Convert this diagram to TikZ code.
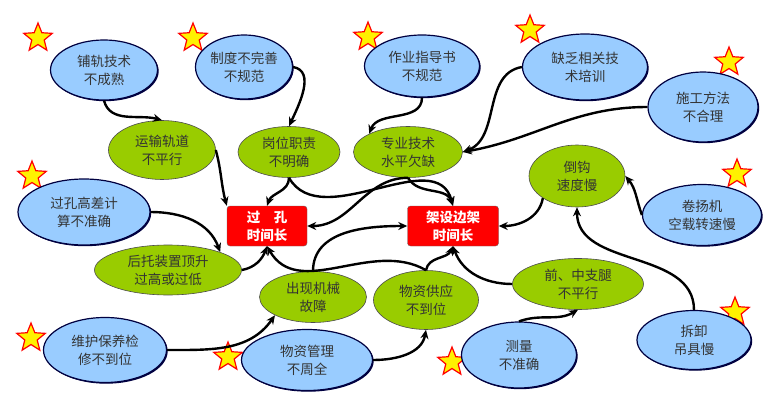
\documentclass[tikz,border=0pt]{standalone}
\usepackage{fontspec}
\setmainfont{Noto Sans CJK SC}
\usetikzlibrary{shapes.geometric,arrows.meta,shadows}
\definecolor{causeblue}{HTML}{99CCFF}
\definecolor{causegreen}{HTML}{99CC00}
\definecolor{edgenavy}{HTML}{000040}
\tikzset{
    root/.style={ellipse,draw=edgenavy,line width=1.2pt,fill=causeblue,inner sep=0pt,
        text=black!80,align=center,font=\fontsize{13.5}{18}\selectfont,
        drop shadow={shadow xshift=1.2pt,shadow yshift=-1.2pt,fill=edgenavy,opacity=1}},
    mid/.style={ellipse,draw=black!70,line width=0.6pt,fill=causegreen,inner sep=0pt,
        text=black!80,align=center,font=\fontsize{13.5}{18}\selectfont},
    effect/.style={rectangle,rounded corners=3pt,draw=black!60,fill=red,text=white,
        align=center,font=\bfseries\fontsize{13.5}{18}\selectfont,minimum width=80pt,minimum height=40pt},
    mark star/.style={star,star points=5,star point ratio=2.3,draw=red,line width=1.2pt,
        fill=yellow,minimum size=30pt,inner sep=0pt},
    cause/.style={-{Stealth[length=9pt,width=8pt]},line width=2.4pt,black}
}
\begin{document}
\begin{tikzpicture}[x=1pt,y=-1pt]
    \useasboundingbox (0,0) rectangle (780,412);

    % stars
    \foreach \sx/\sy [count=\k] in {38/38,193/38,368/37,530/30,729/62,737/174,
        32/176,31/338,228/357,452/362,735/312}
        \node[mark star] (star-\k) at (\sx,\sy) {};

    % effects
    \node[effect] (guokong) at (267,226) {过\quad 孔\\时间长};
    \node[effect,minimum width=91pt] (jiashe) at (453,226) {架设边架\\时间长};

    % first level
    \node[mid,minimum width=107pt,minimum height=59pt] (yunshu) at (162,150) {运输轨道\\不平行};
    \node[mid,minimum width=102pt,minimum height=51pt] (gangwei) at (289,152) {岗位职责\\不明确};
    \node[mid,minimum width=109pt,minimum height=51pt] (zhuanye) at (408,152) {专业技术\\水平欠缺};
    \node[mid,minimum width=147pt,minimum height=50pt] (houtuo) at (168,270) {后托装置顶升\\过高或过低};
    \node[mid,minimum width=107pt,minimum height=51pt] (chuxian) at (313,297) {出现机械\\故障};
    \node[mid,minimum width=105pt,minimum height=59pt] (gongying) at (426,300) {物资供应\\不到位};
    \node[mid,minimum width=96pt,minimum height=62pt] (daogou) at (577,176) {倒钩\\速度慢};
    \node[mid,minimum width=131pt,minimum height=51pt] (zhitui) at (578,284) {前、中支腿\\不平行};

    % root causes
    \node[root,minimum width=107pt,minimum height=60pt] (pugui) at (104,70) {铺轨技术\\不成熟};
    \node[root,minimum width=97pt,minimum height=64pt] (zhidu) at (244,67) {制度不完善\\不规范};
    \node[root,minimum width=115pt,minimum height=62pt] (zuoye) at (422,66) {作业指导书\\不规范};
    \node[root,minimum width=125pt,minimum height=66pt] (quefa) at (585,67) {缺乏相关技\\术培训};
    \node[root,minimum width=110pt,minimum height=70pt] (shigong) at (703,107) {施工方法\\不合理};
    \node[root,minimum width=132pt,minimum height=66pt] (gaocha) at (84,212) {过孔高差计\\算不准确};
    \node[root,minimum width=119pt,minimum height=61pt] (juanyang) at (702,215) {卷扬机\\空载转速慢};
    \node[root,minimum width=123pt,minimum height=65pt] (weihu) at (105,350) {维护保养检\\修不到位};
    \node[root,minimum width=131pt,minimum height=61pt] (guanli) at (307,360) {物资管理\\不周全};
    \node[root,minimum width=115pt,minimum height=66pt] (celiang) at (519,355) {测量\\不准确};
    \node[root,minimum width=114pt,minimum height=59pt] (chaixie) at (694,340) {拆卸\\吊具慢};

    % causes
    \draw[cause] (pugui.south) to[out=-75,in=165] (yunshu.north);
    \draw[cause] (yunshu.east) to[out=-75,in=105] (guokong.north west);
    \draw[cause] (zhidu.east) to[out=-10,in=65] (gangwei.north);
    \draw[cause] (gangwei.south) to[out=-90,in=70] (guokong.north);
    \draw[cause] (gangwei.south) to[out=-60,in=105] (jiashe.north);
    \draw[cause] (zuoye.south) to[out=-90,in=70] (zhuanye.north west);
    \draw[cause] (quefa.west) to[out=190,in=20] (zhuanye.east);
    \draw[cause] (shigong.west) to[out=180,in=10] (zhuanye.east);
    \draw[cause] (zhuanye.south) to[out=180,in=0] (guokong.east);
    \draw[cause] (zhuanye.south) to[out=-60,in=110] (jiashe.north);
    \draw[cause] (gaocha.east) to[out=0,in=110] (houtuo.north east);
    \draw[cause] (houtuo.east) to[out=10,in=-110] (guokong.south);
    \draw[cause] (chuxian.north) to[out=90,in=180] (jiashe.west);
    \draw[cause] (gongying.north) to[out=150,in=-60] (guokong.south);
    \draw[cause] (gongying.north) to[out=80,in=-115] (jiashe.south);
    \draw[cause] (zhitui.west) to[out=180,in=-70] (jiashe.south);
    \draw[cause] (daogou.south west) to[out=-100,in=0] (jiashe.east);
    \draw[cause] (juanyang.west) to[out=110,in=-50] (daogou.east);
    \draw[cause] (chaixie.north) to[out=90,in=-90] (daogou.south);
    \draw[cause] (celiang.north) to[out=20,in=-150] (zhitui.south);
    \draw[cause] (weihu.east) to[out=0,in=-125] (chuxian.south west);
    \draw[cause] (guanli.east) to[out=0,in=-100] (gongying.south);

\end{tikzpicture}
\end{document}
